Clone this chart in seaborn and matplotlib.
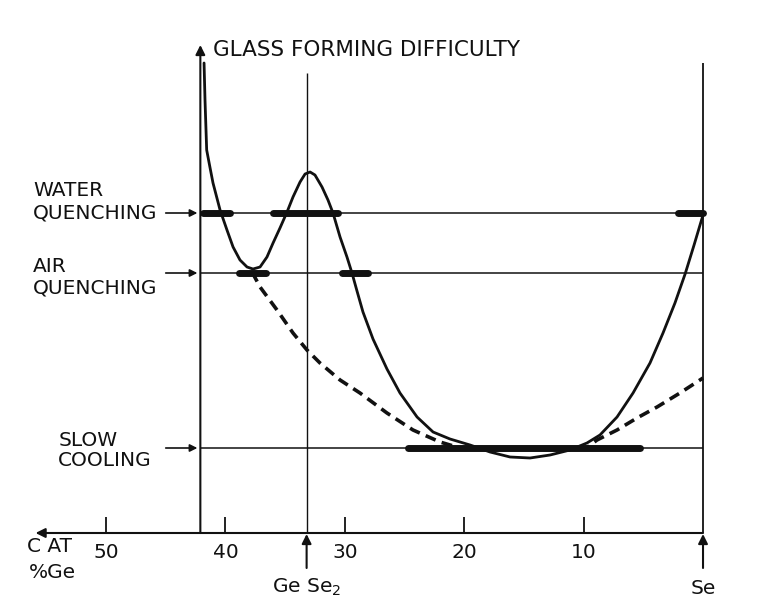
import numpy as np
import matplotlib
matplotlib.use('Agg')
import matplotlib.pyplot as plt
import seaborn as sns

# composition axis: at.% Ge, y: glass forming difficulty (arbitrary units)
tick_ge = [50, 40, 30, 20, 10]
tick_labels = ['50', '40', '30', '20', '10']
ge_left = 42.1      # left border of the diagram
ge_gese2 = 33.2     # GeSe2 composition
ge_se = 0.0

level_names = ['WATER', 'AIR', 'SLOW']
level_second = ['QUENCHING', 'QUENCHING', 'COOLING']
level_values = [32.0, 26.0, 8.5]

# thick segments = glass forming ranges for each cooling rate
bar_level = [32.0, 32.0, 32.0, 26.0, 26.0, 8.5]
bar_start = [41.9, 36.0, 2.1, 38.9, 30.2, 24.7]
bar_end = [39.6, 30.6, 0.0, 36.6, 28.1, 5.3]

# solid curve (glass forming difficulty)
solid_ge = [41.79, 41.71, 41.57, 41.30, 41.04, 40.45, 39.87, 39.36, 38.78, 38.19, 37.69,
            37.10, 36.52, 36.01, 35.43, 34.84, 34.34, 33.75, 33.33, 32.91, 32.50,
            31.91, 31.41, 30.99, 30.40, 29.82, 29.40, 28.98, 28.48, 27.64, 26.47,
            25.38, 23.95, 22.61, 21.19, 19.51, 17.84, 16.16, 14.49, 12.81, 11.14,
            9.72, 8.63, 7.20, 5.86, 4.44, 3.35, 2.35, 1.50, 0.75, 0.0]
solid_y = [47.0, 43.3, 38.3, 36.6, 35.0, 32.3, 30.3, 28.6, 27.3, 26.6, 26.4,
           26.6, 27.6, 29.0, 30.5, 32.1, 33.6, 35.1, 35.9, 36.1, 35.8,
           34.6, 33.3, 32.0, 29.6, 27.6, 26.0, 24.2, 22.1, 19.4, 16.4,
           14.0, 11.6, 10.1, 9.4, 8.8, 8.1, 7.6, 7.5, 7.8, 8.3,
           9.0, 9.8, 11.6, 14.0, 17.0, 20.0, 23.0, 25.9, 28.8, 31.8]

# dashed curve
dash_ge = [37.77, 37.10, 35.68, 34.34, 33.17, 32.08, 30.40, 28.73, 26.47, 24.29,
           22.03, 20.35, 17.0, 14.0, 9.88, 8.88, 7.20, 5.53, 3.85, 1.93, 0.0]
dash_y = [26.1, 24.6, 22.3, 20.0, 18.3, 17.0, 15.3, 14.0, 12.0, 10.3,
          9.1, 8.5, 8.4, 8.4, 8.4, 9.3, 10.3, 11.5, 12.6, 14.0, 15.5]

sns.set_style('white')
plt.rcParams['font.family'] = ['DejaVu Sans']

ink = '#111111'
fs = 14.5
plt.rcParams['text.color'] = ink

fig = plt.figure(figsize=(7.62, 6.13), dpi=100)
ax = fig.add_axes([0, 0, 1, 1])
ax.set_xlim(58.88, -4.94)
ax.set_ylim(-8.0, 53.3)
ax.axis('off')

# frame lines
ax.hlines(level_values, ge_left, ge_se, color=ink, lw=1.1)
ax.vlines(ge_gese2, 0, 46.0, color=ink, lw=1.0)
ax.vlines(ge_se, 0, 47.0, color=ink, lw=1.3)
ax.vlines(tick_ge, 0, 1.6, color=ink, lw=1.3)

arrow = dict(arrowstyle='-|>', color=ink, lw=1.5, mutation_scale=14, shrinkA=0, shrinkB=0)
ax.annotate('', xy=(ge_left, 48.8), xytext=(ge_left, 0), arrowprops=arrow)
ax.annotate('', xy=(55.9, 0), xytext=(ge_se, 0), arrowprops=arrow)
for g in [ge_gese2, ge_se]:
    ax.annotate('', xy=(g, -0.1), xytext=(g, -3.5), arrowprops=arrow)

# curves
sns.lineplot(x=solid_ge, y=solid_y, sort=False, estimator=None, color=ink, lw=2.0, ax=ax)
sns.lineplot(x=dash_ge, y=dash_y, sort=False, estimator=None, color=ink, lw=2.6,
             linestyle=(0, (3.0, 1.8)), ax=ax)

# glass forming ranges
bars = ax.hlines(bar_level, bar_start, bar_end, color=ink, lw=5)
bars.set_capstyle('round')

# cooling rate labels with arrows
text_x = [56.1, 56.1, 54.0]
first_dy = [2.2, 0.6, 0.7]
second_dy = [0.0, -1.5, -1.2]
for name, second, lev, tx, d1, d2 in zip(level_names, level_second, level_values,
                                          text_x, first_dy, second_dy):
    ax.text(tx, lev + d1, name, ha='left', va='center', fontsize=fs)
    ax.text(tx, lev + d2, second, ha='left', va='center', fontsize=fs)
    ax.annotate('', xy=(42.35, lev), xytext=(45.0, lev),
                arrowprops=dict(arrowstyle='-|>', color=ink, lw=1.2,
                                mutation_scale=11, shrinkA=0, shrinkB=0))

ax.text(41.0, 48.3, 'GLASS FORMING DIFFICULTY', ha='left', va='center', fontsize=15.5)

for g, lab in zip(tick_ge, tick_labels):
    ax.text(g, -1.9, lab, ha='center', va='center', fontsize=fs)
ax.text(56.6, -1.4, 'C AT', ha='left', va='center', fontsize=fs)
ax.text(56.5, -3.9, '%Ge', ha='left', va='center', fontsize=fs)
ax.text(ge_gese2, -5.4, 'Ge Se$_2$', ha='center', va='center', fontsize=fs)
ax.text(ge_se, -5.5, 'Se', ha='center', va='center', fontsize=fs)

fig.savefig('out.png', dpi=100, facecolor='white')
